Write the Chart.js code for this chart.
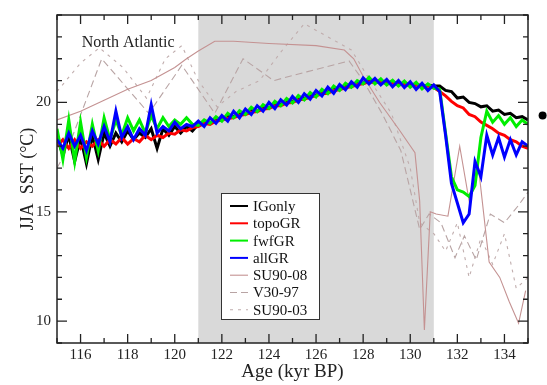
<!DOCTYPE html>
<html><head><meta charset="utf-8">
<script src="https://cdn.jsdelivr.net/npm/chart.js@4/dist/chart.umd.min.js"></script>
<style>html,body{margin:0;padding:0;background:#fff;}canvas{display:block;}</style>
</head><body>
<canvas id="c" width="547" height="385"></canvas>
<script>
// ---- data ----
const ages = [115,115.25,115.5,115.75,116,116.25,116.5,116.75,117,117.25,117.5,117.75,118,118.25,118.5,118.75,119,119.25,119.5,119.75,120,120.25,120.5,120.75,
121,121.25,121.5,121.75,122,122.25,122.5,122.75,123,123.25,123.5,123.75,124,124.25,124.5,124.75,125,125.25,125.5,125.75,126,126.25,126.5,126.75,127,127.25,127.5,127.75,128,128.25,128.5,128.75,129,129.25,129.5,129.75,130,130.25,130.5,130.75,
131,131.25,131.5,131.75,132,132.25,132.5,132.75,133,133.25,133.5,133.75,134,134.25,134.5,134.75,135];

const igOnly = [18.4,17.6,18.5,17.3,18.4,17.2,18.5,17.4,18.6,18.0,18.6,18.2,18.7,18.3,18.6,18.4,18.8,17.9,18.8,18.5,18.9,18.6,18.9,18.7,
19.00,19.10,19.05,19.25,19.20,19.38,19.35,19.50,19.48,19.62,19.60,19.78,19.75,19.92,19.90,20.05,20.05,20.20,20.18,20.35,20.32,20.50,20.48,20.62,20.60,20.78,20.75,20.90,20.88,21.02,20.92,21.00,20.88,20.95,20.82,20.90,20.78,20.85,20.72,20.80,
20.75,20.75,20.55,20.5,20.2,20.25,20.0,19.95,19.8,19.85,19.6,19.65,19.45,19.5,19.3,19.35,19.2];

const topoGR = [18.0,18.3,17.9,18.3,17.9,18.2,18.0,18.3,18.0,18.3,18.1,18.4,18.1,18.35,18.2,18.5,18.3,18.5,18.4,18.6,18.55,18.75,18.7,18.85,
18.90,19.05,19.00,19.15,19.18,19.28,19.30,19.42,19.45,19.55,19.58,19.70,19.72,19.85,19.85,19.98,20.00,20.12,20.15,20.25,20.30,20.40,20.42,20.55,20.58,20.68,20.72,20.82,20.85,20.95,20.90,20.95,20.85,20.90,20.80,20.85,20.75,20.80,20.70,20.75,
20.68,20.5,20.3,20.05,19.85,19.75,19.45,19.35,19.1,18.95,18.8,18.6,18.5,18.3,18.2,18.0,17.9];

const fwfGR = [18.8,17.4,19.2,17.3,19.1,17.5,19.0,17.8,19.3,18.3,19.2,18.5,19.3,18.7,19.2,18.6,19.4,18.8,19.3,18.9,19.2,19.0,19.3,19.0,
18.95,19.20,19.05,19.35,19.15,19.50,19.30,19.62,19.45,19.78,19.58,19.90,19.72,20.05,19.85,20.18,19.98,20.32,20.12,20.45,20.25,20.60,20.40,20.75,20.55,20.88,20.70,21.00,20.85,21.15,20.85,21.08,20.80,21.02,20.75,20.98,20.70,20.92,20.62,20.85,
20.65,20.6,18.6,16.6,16.0,15.9,15.7,16.2,18.4,19.6,19.1,19.4,19.0,19.3,18.9,19.2,19.0];

const allGR = [18.3,17.9,18.6,18.0,18.5,17.8,18.7,18.1,18.9,18.2,19.6,18.4,18.9,18.3,18.8,18.5,19.9,18.6,18.9,18.7,19.1,18.8,19.0,18.9,
19.15,18.90,19.30,19.05,19.40,19.15,19.60,19.30,19.70,19.45,19.85,19.60,20.00,19.72,20.12,19.88,20.28,20.00,20.40,20.15,20.55,20.30,20.70,20.42,20.82,20.58,20.95,20.70,21.12,20.85,21.10,20.80,21.05,20.72,21.00,20.68,20.95,20.60,20.88,20.55,
20.80,20.5,18.5,16.3,15.4,14.5,14.9,17.3,16.6,18.5,17.6,18.4,17.5,18.3,17.6,18.2,18.0];

const su9008Age = [115,116,117,118,119,120,120.5,121,121.7,122.5,124,126,127.2,127.6,128.0,128.7,129.5,130.2,130.4,130.6,130.85,131.1,131.6,132.1,132.5,132.9,133.35,133.8,134.2,134.6,134.9];
const su9008Sst = [19.2,19.6,20.1,20.6,21.0,21.6,22.0,22.35,22.8,22.8,22.7,22.6,22.4,22.0,21.2,20.0,18.8,17.7,15.5,9.6,15.0,14.9,14.8,18.0,15.5,17.0,12.7,12.0,10.9,9.9,11.4];

const v3097Age = [115,115.5,116.9,118.9,120.3,121.7,122.9,124.2,125.6,127.4,128.0,128.8,129.6,130.0,130.4,130.8,131.3,131.9,132.3,132.8,133.4,134.0,134.6,135];
const v3097Sst = [17.0,18.0,22.0,19.5,21.7,19.5,22.0,21.0,21.4,21.9,21.0,19.5,17.8,16.0,14.2,14.9,14.5,12.9,13.9,12.8,14.9,14.5,15.3,15.9];

const su9003Age = [115,116,116.8,117.8,118.8,119.6,120.3,121.0,121.8,122.6,123.6,124.5,125.5,126.5,127.5,128.3,129.2,130.0,130.4,131.0,131.5,132.0,132.5,133.0,133.5,134.0,134.5,135];
const su9003Sst = [20.5,21.8,22.5,21.6,20.2,22.0,22.6,21.0,19.8,20.5,21.0,22.3,23.6,23.0,22.4,21.0,19.5,17.0,14.5,14.0,13.2,14.5,12.0,13.8,12.6,14.0,11.5,12.0];

const markerAge = [135.62];
const markerSst = [19.4];

const xTicks = [116,118,120,122,124,126,128,130,132,134];
const yTicks = [10,15,20];
const shadeRange = [121,131];
const regionLabel = 'North Atlantic';
const regionLabelPos = [116.05, 22.75];

// ---- helpers ----
const pts = (xs, ys) => xs.map((v, i) => ({x: v, y: ys[i]}));
const FONT = "'Liberation Serif','Times New Roman',serif";

const plotDecor = {
  id: 'plotDecor',
  beforeDatasetsDraw(chart) {
    const {ctx, chartArea: a, scales: {x}} = chart;
    const x0 = x.getPixelForValue(shadeRange[0]), x1 = x.getPixelForValue(shadeRange[1]);
    ctx.save();
    ctx.fillStyle = '#d9d9d9';
    ctx.fillRect(x0, a.top, x1 - x0, a.bottom - a.top);
    ctx.restore();
  },
  afterDatasetsDraw(chart) {
    const {ctx, chartArea: a, scales: {x, y}} = chart;
    ctx.save();
    // frame
    ctx.strokeStyle = '#222';
    ctx.lineWidth = 1.5;
    ctx.strokeRect(a.left, a.top, a.right - a.left, a.bottom - a.top);
    // ticks (inward, all four sides)
    ctx.lineWidth = 1.3;
    ctx.beginPath();
    for (let v = Math.ceil(x.min); v <= x.max; v++) {
      const px = x.getPixelForValue(v);
      const len = xTicks.includes(v) ? 9 : 5;
      ctx.moveTo(px, a.bottom); ctx.lineTo(px, a.bottom - len);
      ctx.moveTo(px, a.top); ctx.lineTo(px, a.top + len);
    }
    for (let v = Math.ceil(y.min); v <= y.max; v++) {
      const py = y.getPixelForValue(v);
      const len = yTicks.includes(v) ? 10 : 5;
      ctx.moveTo(a.left, py); ctx.lineTo(a.left + len, py);
      ctx.moveTo(a.right, py); ctx.lineTo(a.right - len, py);
    }
    ctx.stroke();
    // observed marker (outside the frame)
    ctx.fillStyle = '#000';
    markerAge.forEach((v, i) => {
      ctx.beginPath();
      ctx.arc(x.getPixelForValue(v), y.getPixelForValue(markerSst[i]), 4, 0, Math.PI * 2);
      ctx.fill();
    });
    // region label
    ctx.fillStyle = '#222';
    ctx.font = '16px ' + FONT;
    ctx.textAlign = 'left';
    ctx.textBaseline = 'middle';
    ctx.fillText(regionLabel, x.getPixelForValue(regionLabelPos[0]), y.getPixelForValue(regionLabelPos[1]));
    // legend box
    const lx = a.left + 164, ly = a.top + 178, lw = 98, lh = 126;
    ctx.fillStyle = '#fff';
    ctx.fillRect(lx, ly, lw, lh);
    ctx.strokeStyle = '#333';
    ctx.lineWidth = 1;
    ctx.strokeRect(lx + 0.5, ly + 0.5, lw, lh);
    ctx.font = '15px ' + FONT;
    const items = chart.data.datasets.filter(d => d.label);
    items.forEach((d, k) => {
      const cy = ly + 13 + k * 17.3;
      ctx.beginPath();
      ctx.strokeStyle = d.borderColor;
      ctx.lineWidth = Math.min(d.borderWidth, 2);
      ctx.setLineDash(d.borderDash || []);
      ctx.moveTo(lx + 9, cy); ctx.lineTo(lx + 27, cy);
      ctx.stroke();
      ctx.setLineDash([]);
      ctx.fillStyle = '#111';
      ctx.fillText(d.label, lx + 32, cy + 1);
    });
    ctx.restore();
  }
};

const modelLine = (label, data, color, order) => ({
  label, data: pts(ages, data), borderColor: color, backgroundColor: color,
  borderWidth: 3, pointRadius: 0, tension: 0, order
});
const proxyLine = (label, xs, ys, color, dash, order) => ({
  label, data: pts(xs, ys), borderColor: color, backgroundColor: color,
  borderWidth: 1.1, borderDash: dash, pointRadius: 0, tension: 0, order
});

new Chart(document.getElementById('c'), {
  type: 'line',
  data: {
    datasets: [
      modelLine('IGonly', igOnly, '#000000', 4),
      modelLine('topoGR', topoGR, '#ff0000', 3),
      modelLine('fwfGR', fwfGR, '#00ee00', 2),
      modelLine('allGR', allGR, '#0000ff', 1),
      proxyLine('SU90-08', su9008Age, su9008Sst, '#c49292', [], 5),
      proxyLine('V30-97', v3097Age, v3097Sst, '#b8a4a4', [7, 4], 6),
      proxyLine('SU90-03', su9003Age, su9003Sst, '#c0adad', [3, 5], 7)
    ]
  },
  options: {
    responsive: false,
    animation: false,
    layout: { padding: { top: 12, right: 19, left: 0, bottom: 0 } },
    plugins: { legend: { display: false }, tooltip: { enabled: false } },
    scales: {
      x: {
        type: 'linear', min: 115, max: 135,
        afterBuildTicks: s => { s.ticks = xTicks.map(v => ({value: v})); },
        afterFit: s => { s.height = 42; },
        grid: { display: false, drawTicks: false }, border: { display: false },
        ticks: { color: '#222', font: { family: FONT, size: 15 }, padding: 3, maxRotation: 0, autoSkip: false },
        title: { display: true, text: 'Age (kyr BP)', color: '#222', font: { family: FONT, size: 19 }, padding: { top: 0, bottom: 2 } }
      },
      y: {
        min: 9, max: 24,
        afterBuildTicks: s => { s.ticks = yTicks.map(v => ({value: v})); },
        afterFit: s => { s.width = 57; },
        grid: { display: false, drawTicks: false }, border: { display: false },
        ticks: { color: '#222', font: { family: FONT, size: 15 }, padding: 6 },
        title: { display: true, text: 'JJA  SST (°C)', color: '#222', font: { family: FONT, size: 18 }, padding: { top: 17, bottom: 0 } }
      }
    }
  },
  plugins: [plotDecor]
});
</script>
</body></html>
